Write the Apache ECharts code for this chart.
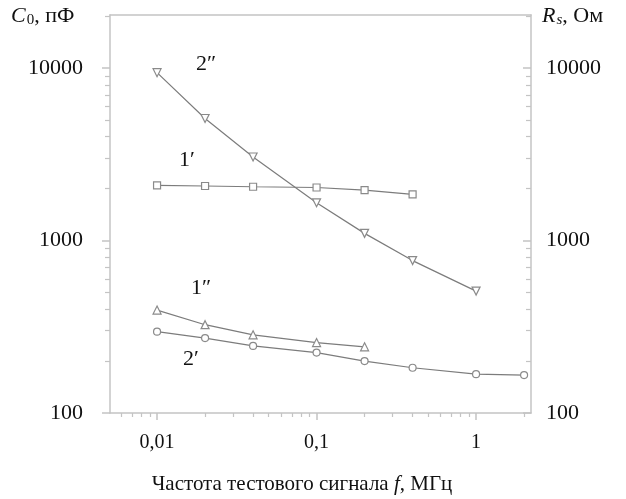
<!DOCTYPE html>
<html><head><meta charset="utf-8">
<script src="https://cdn.jsdelivr.net/npm/echarts@6/dist/echarts.min.js"></script>
<style>html,body{margin:0;padding:0;background:#fff}#c{width:626px;height:499px}</style>
</head><body><div id="c"></div>
<script>
// Frequency, MHz
const freq = [0.01, 0.02, 0.04, 0.1, 0.2, 0.4, 1, 2];
// C0, pF (left axis)
const c0_1 = [2090, 2070, 2050, 2030, 1960, 1850];           // 1'
const c0_2 = [296, 272, 245, 224, 200, 183, 168, 166];       // 2'
// Rs, Ohm (right axis)
const rs_1 = [395, 325, 284, 256, 242];                      // 1''
const rs_2 = [9400, 5100, 3050, 1655, 1100, 765, 509];       // 2''

const xMajor = [0.01, 0.1, 1];
const xMinor = [0.006,0.007,0.008,0.009,0.02,0.03,0.04,0.05,0.06,0.07,0.08,0.09,0.2,0.3,0.4,0.5,0.6,0.7,0.8,0.9,2];
const yMajor = [100, 1000, 10000];
const yMinor = [200,300,400,500,600,700,800,900,2000,3000,4000,5000,6000,7000,8000,9000,20000];

const xMin = 0.00507, xMax = 2.21, yMin = 100, yMax = 20300;
const FONT = 'Liberation Serif';
const axisCol = '#c4c4c4';
const lineCol = '#7c7c7c';

function pairs(vals){ return vals.map((v,i)=>[freq[i], v]); }

const chart = echarts.init(document.getElementById('c'), null, {renderer:'canvas'});
const xl = {fontFamily: FONT, fontSize: 20, color: '#111'};
const yl = {fontFamily: FONT, fontSize: 22, color: '#111'};
const fmt = v => String(v).replace('.', ',');

chart.setOption({
  animation: false,
  backgroundColor: '#fff',
  grid: {left: 110, right: 95, top: 15, bottom: 86, containLabel: false},
  xAxis: [
    {type:'log', min:xMin, max:xMax, position:'bottom',
     axisLine:{show:true, lineStyle:{color:axisCol, width:1.5}},
     axisTick:{show:true, length:7, customValues:xMajor, lineStyle:{color:axisCol, width:1.5}},
     axisLabel:{show:true, customValues:xMajor, margin:20, ...xl, formatter: fmt},
     splitLine:{show:false}, minorTick:{show:false}},
    {type:'log', min:xMin, max:xMax, position:'bottom',
     axisLine:{show:false},
     axisTick:{show:true, length:4, customValues:xMinor, lineStyle:{color:axisCol, width:1.2}},
     axisLabel:{show:false}, splitLine:{show:false}},
    {type:'log', min:xMin, max:xMax, position:'top',
     axisLine:{show:true, lineStyle:{color:axisCol, width:1.5}},
     axisTick:{show:false}, axisLabel:{show:false}, splitLine:{show:false}}
  ],
  yAxis: [
    {type:'log', min:yMin, max:yMax, position:'left',
     axisLine:{show:true, lineStyle:{color:axisCol, width:1.5}},
     axisTick:{show:true, length:8, customValues:yMajor, lineStyle:{color:axisCol, width:1.5}},
     axisLabel:{show:true, customValues:yMajor, margin:27, ...yl, formatter: fmt},
     splitLine:{show:false}},
    {type:'log', min:yMin, max:yMax, position:'right',
     axisLine:{show:true, lineStyle:{color:axisCol, width:1.5}},
     axisTick:{show:true, inside:true, length:8, customValues:yMajor, lineStyle:{color:axisCol, width:1.5}},
     axisLabel:{show:true, customValues:yMajor, margin:15, ...yl, formatter: fmt},
     splitLine:{show:false}},
    {type:'log', min:yMin, max:yMax, position:'left',
     axisLine:{show:false},
     axisTick:{show:true, length:5, customValues:yMinor, lineStyle:{color:axisCol, width:1.2}},
     axisLabel:{show:false}, splitLine:{show:false}},
    {type:'log', min:yMin, max:yMax, position:'right',
     axisLine:{show:false},
     axisTick:{show:true, inside:true, length:5, customValues:yMinor, lineStyle:{color:axisCol, width:1.2}},
     axisLabel:{show:false}, splitLine:{show:false}}
  ],
  series: [
    {name:"1′", type:'line', xAxisIndex:0, yAxisIndex:0, data:pairs(c0_1),
     symbol:'rect', symbolSize:7, lineStyle:{color:lineCol, width:1.2},
     itemStyle:{color:'#fff', borderColor:'#8a8a8a', borderWidth:1.2}},
    {name:"2′", type:'line', xAxisIndex:0, yAxisIndex:0, data:pairs(c0_2),
     symbol:'circle', symbolSize:7, lineStyle:{color:lineCol, width:1.2},
     itemStyle:{color:'#fff', borderColor:'#8a8a8a', borderWidth:1.2}},
    {name:"1″", type:'line', xAxisIndex:0, yAxisIndex:1, data:pairs(rs_1),
     symbol:'triangle', symbolSize:8, lineStyle:{color:lineCol, width:1.2},
     itemStyle:{color:'#fff', borderColor:'#8a8a8a', borderWidth:1.2}},
    {name:"2″", type:'line', xAxisIndex:0, yAxisIndex:1, data:pairs(rs_2),
     symbol:'triangle', symbolRotate:180, symbolSize:8, lineStyle:{color:lineCol, width:1.2},
     itemStyle:{color:'#fff', borderColor:'#8a8a8a', borderWidth:1.2}}
  ],
  graphic: [
    {type:'text', left:11, top:5, style:{
      text:'{i|C}{s|0}{n|, пФ}',
      rich:{i:{fontFamily:FONT, fontSize:22, fontStyle:'italic', fill:'#111'},
            s:{fontFamily:FONT, fontSize:15, fill:'#111', padding:[9,0,0,1]},
            n:{fontFamily:FONT, fontSize:22, fill:'#111', padding:[0,0,0,0]}}}},
    {type:'text', left:542, top:5, style:{
      text:'{i|R}{s|s}{n|, Ом}',
      rich:{i:{fontFamily:FONT, fontSize:22, fontStyle:'italic', fill:'#111'},
            s:{fontFamily:FONT, fontSize:15, fontStyle:'italic', fill:'#111', padding:[9,0,0,1]},
            n:{fontFamily:FONT, fontSize:22, fill:'#111'}}}},
    {type:'text', x:302, y:484, style:{
      text:'{n|Частота тестового сигнала }{i|f}{n|, МГц}', align:'center', verticalAlign:'middle',
      rich:{n:{fontFamily:FONT, fontSize:21, fill:'#111'},
            i:{fontFamily:FONT, fontSize:21, fontStyle:'italic', fill:'#111'}}}},
    {type:'text', x:206, y:64, style:{text:'2″', font:'22px "Liberation Serif"', fill:'#111', align:'center', verticalAlign:'middle'}},
    {type:'text', x:187, y:160, style:{text:'1′', font:'22px "Liberation Serif"', fill:'#111', align:'center', verticalAlign:'middle'}},
    {type:'text', x:201, y:288, style:{text:'1″', font:'22px "Liberation Serif"', fill:'#111', align:'center', verticalAlign:'middle'}},
    {type:'text', x:191, y:359, style:{text:'2′', font:'22px "Liberation Serif"', fill:'#111', align:'center', verticalAlign:'middle'}}
  ]
});
</script></body></html>
